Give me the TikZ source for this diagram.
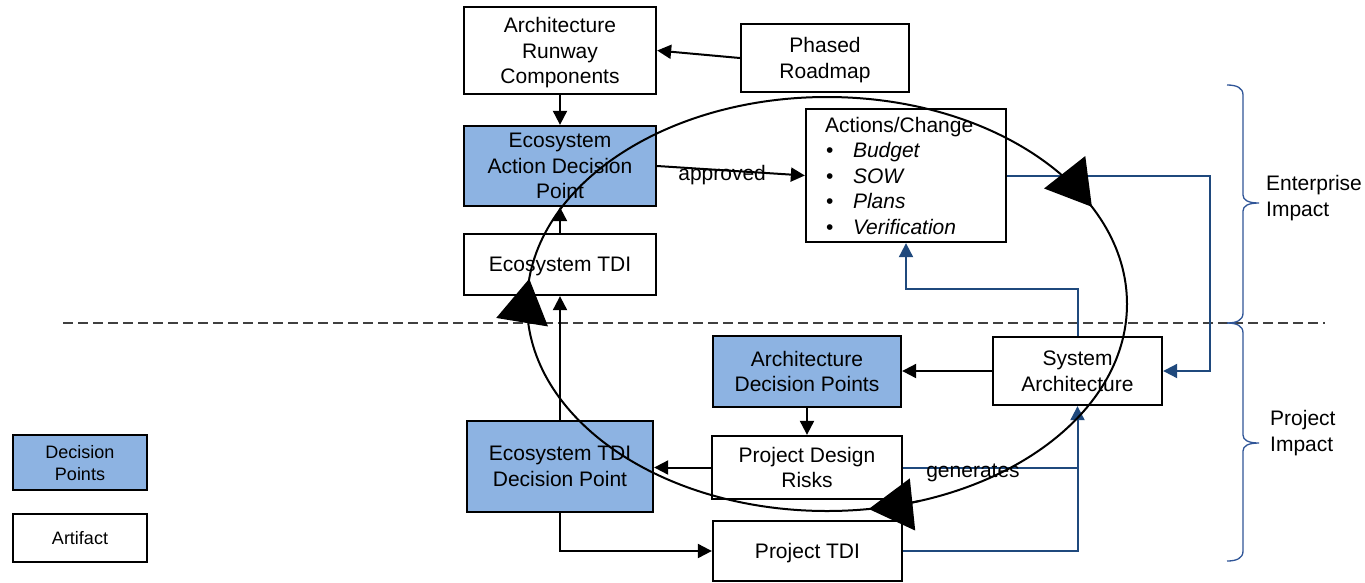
\documentclass[tikz,border=0pt]{standalone}
\usepackage{fontspec}
\setmainfont{Liberation Sans}
\usetikzlibrary{arrows.meta}
\definecolor{dpfill}{RGB}{141,179,226}
\definecolor{flowblue}{RGB}{31,73,125}
\definecolor{bracecol}{RGB}{47,85,151}
\definecolor{splitgray}{RGB}{64,64,64}

\begin{document}
\begin{tikzpicture}[x=1pt,y=-1pt,
  boxbase/.style={draw=black, line width=2.3pt, inner sep=0pt,
    font=\fontsize{21}{25.5}\selectfont},
  box/.style={boxbase, align=center, text depth=0pt},
  artifact/.style={box, fill=white},
  decision/.style={box, fill=dpfill},
  listbox/.style={boxbase, fill=white, align=left},
  legendbox/.style={font=\fontsize{18}{22}\selectfont, minimum width=134pt},
  arr/.style={draw=black, line width=2pt, -{Triangle[length=14pt,width=14pt]}},
  bline/.style={draw=flowblue, line width=2pt},
  barr/.style={bline, -{Triangle[length=14pt,width=14pt]}},
  cycleline/.style={draw=black, line width=2pt},
  cycletip/.style={cycleline, -{Triangle[length=44pt,width=52pt]}},
  lbl/.style={font=\fontsize{21}{25.5}\selectfont, inner sep=0pt},
  braceline/.style={draw=bracecol, line width=1.3pt},
  splitline/.style={draw=splitgray, line width=1.3pt, dash pattern=on 10pt off 5pt}
]
\useasboundingbox (0,0) rectangle (1365,582);

% enterprise / project split
\coordinate (s1) at (63,323);
\coordinate (s2) at (1325,323);
\draw[splitline] (s1) -- (s2);

% boxes
\node[artifact, minimum width=192pt, minimum height=87pt] (arc) at (560,50.5) {Architecture\\Runway\\Components};
\node[artifact, minimum width=168pt, minimum height=68pt] (pr) at (825,58) {Phased\\Roadmap};
\node[decision, minimum width=192pt, minimum height=80pt] (eadp) at (560,166) {Ecosystem\\Action Decision\\Point};
\node[artifact, minimum width=192pt, minimum height=61pt] (etdi) at (560,264.5) {Ecosystem TDI};
\node[listbox, minimum width=200pt, minimum height=133pt, text width=162pt, inner xsep=19pt] (act) at (906,175.5)
  {Actions/Change\\
   \makebox[28pt][l]{\hspace{1pt}\textbullet}\textit{Budget}\\
   \makebox[28pt][l]{\hspace{1pt}\textbullet}\textit{SOW}\\
   \makebox[28pt][l]{\hspace{1pt}\textbullet}\textit{Plans}\\
   \makebox[28pt][l]{\hspace{1pt}\textbullet}\textit{Verification}};
\node[decision, minimum width=188pt, minimum height=71pt] (adp) at (807,371.5) {Architecture\\Decision Points};
\node[artifact, minimum width=169pt, minimum height=68pt] (sa) at (1077.5,371) {System\\Architecture};
\node[artifact, minimum width=190pt, minimum height=63pt] (pdr) at (807,467.5) {Project Design\\Risks};
\node[decision, minimum width=186pt, minimum height=91pt] (etdidp) at (560,466.5) {Ecosystem TDI\\Decision Point};
\node[artifact, minimum width=189pt, minimum height=60pt] (ptdi) at (807.5,551) {Project TDI};

% legend
\node[decision, legendbox, minimum height=55pt] (legdp) at (80,462.5) {Decision\\Points};
\node[artifact, legendbox, minimum height=48pt] (legart) at (80,538) {Artifact};

% black connectors
\draw[arr] (pr.west) -- (arc.east);
\draw[arr] (arc.south) -- (eadp.north);
\draw[arr] (eadp.east) -- (act.west) node[lbl, pos=0.44, yshift=-5pt] {approved};
\draw[arr] (etdi.north) -- (eadp.south);
\draw[arr] (etdidp.north) -- (etdi.south);
\draw[arr] (etdidp.south) |- (ptdi.west);
\draw[arr] (pdr.west) -- (pdr.west -| etdidp.east);
\draw[arr] (adp.south) -- (pdr.north);
\draw[arr] (sa.west) -- (sa.west -| adp.east);

% blue connectors
\coordinate (k1) at (1210,175.5);
\coordinate (k2) at (906,289);
\draw[barr] (act.east) -- (k1) |- (sa.east);
\draw[barr] (sa.north) |- (k2) -- (act.south);
\draw[barr] (ptdi.east) -| (sa.south);
\draw[bline] (pdr.east) -- (pdr.east -| sa.south);
\node[lbl] (gen) at (973,473) {generates};

% impact braces
\draw[braceline] (1227,85) .. controls (1237,85) and (1243,88) .. (1243,95) -- (1243,195)
  .. controls (1243,200) and (1248,203) .. (1259,203)
  .. controls (1248,203) and (1243,206) .. (1243,211) -- (1243,313)
  .. controls (1243,320) and (1237,323) .. (1227,323);
\draw[braceline] (1227,323) .. controls (1237,323) and (1243,326) .. (1243,333) -- (1243,435)
  .. controls (1243,440) and (1248,443) .. (1259,443)
  .. controls (1248,443) and (1243,446) .. (1243,451) -- (1243,551)
  .. controls (1243,558) and (1237,561) .. (1227,561);
\node[lbl, anchor=west, align=left] (ent) at (1266,198) {Enterprise\\Impact};
\node[lbl, anchor=west, align=left] (proj) at (1270,433) {Project\\Impact};

% improvement cycle
\draw[cycleline] (827,304) ellipse [x radius=300pt, y radius=207pt];
\draw[cycletip] plot[domain=72:82, samples=15] ({827+300*cos(\x)},{304+207*sin(\x)});
\draw[cycletip] plot[domain=177:187, samples=15] ({827+300*cos(\x)},{304+207*sin(\x)});
\draw[cycletip] plot[domain=322:332, samples=15] ({827+300*cos(\x)},{304+207*sin(\x)});
\end{tikzpicture}
\end{document}
